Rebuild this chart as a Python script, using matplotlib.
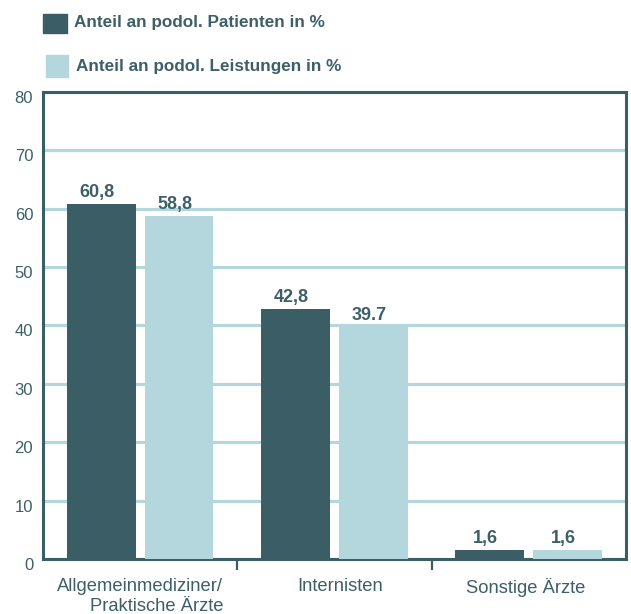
import matplotlib
matplotlib.use("Agg")
import matplotlib.pyplot as plt
import matplotlib.transforms as mtransforms
from matplotlib.patches import Rectangle
import numpy as np

plt.rcParams['font.family'] = ['Liberation Sans', 'DejaVu Sans']

# Daten
categories = ['Allgemeinmediziner/\nPraktische Ärzte', 'Internisten', 'Sonstige Ärzte']
patienten = [60.8, 42.8, 1.6]
leistungen = [58.8, 39.7, 1.6]
labels_patienten = ['60,8', '42,8', '1,6']
labels_leistungen = ['58,8', '39.7', '1,6']
legend_labels = ['Anteil an podol. Patienten in %', 'Anteil an podol. Leistungen in %']
yticks = [0, 10, 20, 30, 40, 50, 60, 70, 80]

dark = '#3a5d66'
light = '#b3d7dd'
txt = '#3d5f68'

fig = plt.figure(figsize=(6.31, 6.14), dpi=100)
ax = fig.add_axes([0.0681, 0.0896, 0.9239, 0.7606])

x = np.arange(len(categories))
w = 0.355
ax.bar(x - 0.2, patienten, w, color=dark, zorder=3)
ax.bar(x + 0.2, leistungen, w, color=light, zorder=3)

# Werte über den Balken
for xi, v, s in zip(x, patienten, labels_patienten):
    ax.annotate(s, (xi - 0.2, v), xytext=(-3, 2), textcoords='offset points',
                ha='center', va='bottom', fontsize=13, fontweight='bold', color=txt)
for xi, v, s in zip(x, leistungen, labels_leistungen):
    ax.annotate(s, (xi + 0.2, v), xytext=(-3, 2), textcoords='offset points',
                ha='center', va='bottom', fontsize=13, fontweight='bold', color=txt)

ax.set_xlim(-0.5, 2.5)
ax.set_ylim(0, 80)
ax.set_yticks(yticks)
ax.yaxis.grid(True, color=light, linewidth=2.3, zorder=0)
ax.set_axisbelow(True)

for sp in ax.spines.values():
    sp.set_color(dark)
    sp.set_linewidth(2.2)

ax.tick_params(axis='y', length=0, pad=7, labelsize=12, labelcolor=txt)
offset = mtransforms.ScaledTranslation(0, -5 / 100, fig.dpi_scale_trans)
for lab in ax.get_yticklabels():
    lab.set_transform(lab.get_transform() + offset)

ax.set_xticks(x)
ax.set_xticklabels(categories, multialignment='right')
ax.set_xticks([0.5, 1.5], minor=True)
ax.tick_params(axis='x', which='major', length=0, pad=14, labelsize=13.2, labelcolor=txt)
ax.tick_params(axis='x', which='minor', length=8, width=1.6, color=dark, direction='out')

# kleine Verschiebung der Kategorienamen wie im Original
for lab, dx in zip(ax.get_xticklabels(), [0, 6, -3]):
    lab.set_transform(lab.get_transform() +
                      mtransforms.ScaledTranslation(dx / 100, 0, fig.dpi_scale_trans))

# Legende oben
fig.patches.append(Rectangle((43 / 631, 1 - 33 / 614), 24 / 631, 19 / 614,
                             transform=fig.transFigure, color=dark))
fig.patches.append(Rectangle((46 / 631, 1 - 77 / 614), 22 / 631, 22 / 614,
                             transform=fig.transFigure, color=light))
fig.text(74 / 631, 1 - 23 / 614, legend_labels[0], fontsize=12.3, fontweight='bold',
         color=txt, va='center', ha='left')
fig.text(76 / 631, 1 - 66 / 614, legend_labels[1], fontsize=12.3, fontweight='bold',
         color=txt, va='center', ha='left')

fig.savefig('out.png', dpi=100)
